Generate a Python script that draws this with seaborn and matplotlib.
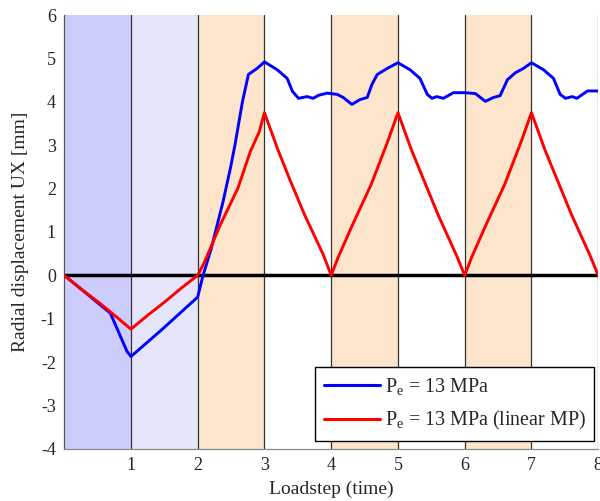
import numpy as np
import pandas as pd
import matplotlib
matplotlib.use("Agg")
import matplotlib.pyplot as plt
import seaborn as sns

# ---- data ----
blue_x = [0.0, 0.24, 0.54, 0.69, 0.81, 0.94, 1.0, 1.24, 1.5, 1.75, 2.0, 2.08, 2.2, 2.38,
          2.49, 2.56, 2.67, 2.76, 2.89, 3.0, 3.19, 3.34, 3.42, 3.51, 3.64, 3.73, 3.81,
          3.94, 4.09, 4.18, 4.31, 4.43, 4.54, 4.61, 4.69, 4.84, 5.0, 5.18, 5.33, 5.44,
          5.51, 5.58, 5.68, 5.83, 6.0, 6.16, 6.31, 6.43, 6.53, 6.64, 6.76, 6.88, 7.0,
          7.18, 7.33, 7.43, 7.51, 7.61, 7.68, 7.84, 8.0]
blue_y = [0.0, -0.3, -0.68, -0.87, -1.29, -1.75, -1.87, -1.55, -1.2, -0.85, -0.5, 0.0, 0.6, 1.7,
          2.47, 3.02, 4.0, 4.63, 4.77, 4.92, 4.74, 4.54, 4.24, 4.08, 4.12, 4.08, 4.15,
          4.2, 4.17, 4.1, 3.94, 4.05, 4.1, 4.4, 4.63, 4.77, 4.9, 4.74, 4.54, 4.17,
          4.08, 4.12, 4.08, 4.21, 4.21, 4.19, 4.01, 4.1, 4.14, 4.51, 4.67, 4.77, 4.9,
          4.74, 4.54, 4.17, 4.08, 4.12, 4.08, 4.25, 4.25]

red_x = [0.0, 0.24, 0.54, 0.8, 1.0, 1.25, 1.5, 1.75, 2.0, 2.1, 2.34, 2.6, 2.79, 2.92, 3.0,
         3.2, 3.39, 3.6, 3.88, 4.0, 4.1, 4.3, 4.6, 4.85, 5.0, 5.2, 5.4, 5.6, 5.88, 6.0,
         6.1, 6.3, 6.6, 6.85, 7.0, 7.2, 7.4, 7.6, 7.88, 8.0]
red_y = [0.0, -0.3, -0.65, -0.98, -1.24, -0.92, -0.62, -0.3, 0.0, 0.3, 1.17, 2.0, 2.86, 3.3, 3.75,
         2.9, 2.17, 1.4, 0.48, 0.0, 0.4, 1.1, 2.1, 3.1, 3.75, 2.9, 2.15, 1.4, 0.45, 0.0,
         0.4, 1.1, 2.1, 3.1, 3.75, 2.9, 2.15, 1.4, 0.45, 0.0]

series_names = ["P$_{\\mathrm{e}}$ = 13 MPa", "P$_{\\mathrm{e}}$ = 13 MPa (linear MP)"]
x_ticks = [1, 2, 3, 4, 5, 6, 7, 8]
y_ticks = [-4, -3, -2, -1, 0, 1, 2, 3, 4, 5, 6]
bands = [(0, 1, "#ccccfd"), (1, 2, "#e5e5fc"), (2, 3, "#fde5cc"), (4, 5, "#fde5cc"), (6, 7, "#fde5cc")]

df = pd.concat([
    pd.DataFrame({"x": blue_x, "y": blue_y, "s": series_names[0]}),
    pd.DataFrame({"x": red_x, "y": red_y, "s": series_names[1]}),
], ignore_index=True)

sns.set_style("white")
plt.rcParams["font.family"] = ["Liberation Serif", "DejaVu Serif"]
plt.rcParams["mathtext.fontset"] = "custom"
plt.rcParams["mathtext.rm"] = "Liberation Serif"
plt.rcParams["mathtext.it"] = "Liberation Serif:italic"
plt.rcParams["axes.unicode_minus"] = False

fig = plt.figure(figsize=(6.0, 5.01), dpi=100)
ax = fig.add_axes([0.107, 0.104, 0.890, 0.866])

for a, b, c in bands:
    ax.axvspan(a, b, color=c, lw=0, zorder=0)
for xv in x_ticks:
    ax.axvline(xv, color="#333333", lw=0.9, zorder=1)
ax.axhline(0, color="black", lw=2.5, zorder=2)

sns.lineplot(data=df, x="x", y="y", hue="s", palette=["#0000ff", "#ff0000"],
             sort=False, estimator=None, lw=2.1, ax=ax, zorder=3)

ax.set_xlim(0, 8)
ax.set_ylim(-4, 6)
ax.set_xticks(x_ticks)
ax.set_yticks(y_ticks)
ax.tick_params(labelsize=13, length=2, direction="in", color="#333333", pad=6)
ax.set_xlabel("Loadstep (time)", fontsize=14, labelpad=5)
ax.set_ylabel("Radial displacement UX [mm]", fontsize=14)
ax.yaxis.set_label_coords(-0.066, 0.5)

for sp in ["top", "right"]:
    ax.spines[sp].set_visible(False)
ax.spines["left"].set_color("#555555")
ax.spines["bottom"].set_color("#888888")
ax.spines["left"].set_linewidth(0.9)
ax.spines["bottom"].set_linewidth(0.9)

handles, labels = ax.get_legend_handles_labels()
leg = ax.legend(handles, labels, loc="lower right", bbox_to_anchor=(0.993, 0.018),
                fontsize=14.4, frameon=True, fancybox=False, handlelength=2.8,
                borderpad=0.45, labelspacing=0.6, handletextpad=0.25, borderaxespad=0)
leg.get_frame().set_edgecolor("black")
leg.get_frame().set_linewidth(1.0)
leg.get_frame().set_alpha(1)
for ln in leg.get_lines():
    ln.set_linewidth(2.2)

fig.savefig("out.png", dpi=100)
